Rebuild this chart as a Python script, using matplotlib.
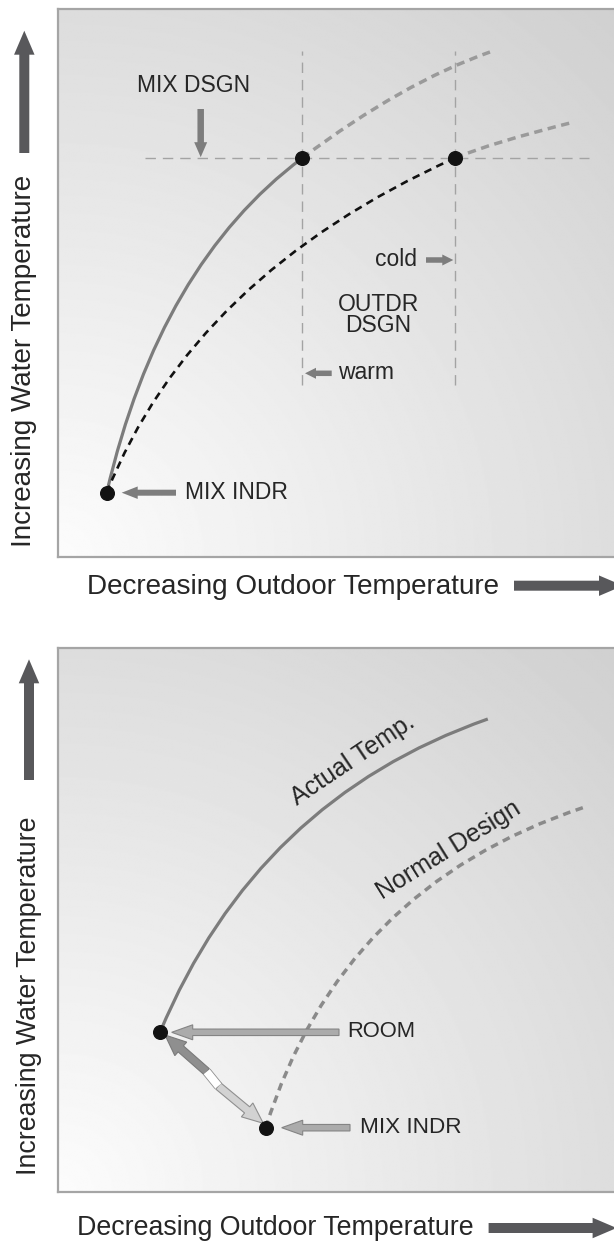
import numpy as np
import matplotlib
matplotlib.use("Agg")
import matplotlib.pyplot as plt
from matplotlib.path import Path
from matplotlib.patches import PathPatch, FancyArrow
import matplotlib.patheffects as pe

plt.rcParams['font.family'] = ['Liberation Sans', 'DejaVu Sans']
plt.rcParams['lines.scale_dashes'] = False

# ---------------- data (panel units, origin = lower-left corner of each panel) -------------
# Top panel: reset curves (start, bezier control, end)
top_actual = [(49.2, 64.0), (102.0, 292.0), (244.8, 398.7)]
top_actual_ext = [(244.8, 398.7), (345.5, 474.2), (432.5, 504.7)]
top_design = [(49.2, 64.0), (136.0, 281.0), (397.5, 398.7)]
top_design_ext = [(397.5, 398.7), (434.0, 414.0), (516.5, 434.7)]
top_points_x = [49.2, 244.8, 397.5]
top_points_y = [64.0, 398.7, 398.7]
top_guides_x = [244.8, 397.5]
top_guides_y = [171.7, 505.7]
top_guide_h = [87.5, 531.5]
top_guide_h_y = 398.7
top_labels = ["MIX DSGN", "cold", "OUTDR\nDSGN", "warm", "MIX INDR"]

# Bottom panel
bot_actual = [(102.0, 160.0), (198.9, 392.5), (429.8, 473.3)]
bot_design = [(207.7, 64.6), (282.7, 304.6), (526.0, 385.0)]
bot_points_x = [102.0, 207.7]
bot_points_y = [160.0, 64.6]
bot_labels = ["ROOM", "MIX INDR", "Actual Temp.", "Normal Design"]

x_title = "Decreasing Outdoor Temperature"
y_title = "Increasing Water Temperature"

# ---------------- figure ----------------
W, H = 614, 1241
fig = plt.figure(figsize=(W / 100, H / 100), dpi=100)
fig.patch.set_facecolor('white')

TXT = '#262626'
ARW = '#58585b'


def panel(left, top, right, bottom):
    w, h = right - left, bottom - top
    ax = fig.add_axes([left / W, 1 - bottom / H, w / W, h / H])
    xs = np.linspace(0, w, 400)
    ys = np.linspace(0, h, 400)
    X, Y = np.meshgrid(xs, ys)
    R = np.hypot(X, Y * 1.05)
    g = np.clip(252 - 0.055 * R, 0, 255) / 255.0
    ax.imshow(g, extent=(0, w, 0, h), origin='lower', cmap='gray', vmin=0, vmax=1,
              aspect='auto', zorder=0, interpolation='bilinear')
    ax.set_xlim(0, w)
    ax.set_ylim(0, h)
    ax.set_xticks([])
    ax.set_yticks([])
    for s in ax.spines.values():
        s.set_color('#a5a5a5')
        s.set_linewidth(1.6)
    return ax


def bez(ax, pts, **kw):
    path = Path(pts, [Path.MOVETO, Path.CURVE3, Path.CURVE3])
    ax.add_patch(PathPatch(path, fill=False, capstyle='butt', **kw))


def arrow(ax, x0, y0, x1, y1, w, hw, hl, fc, ec='none', lw=0, z=4):
    ax.add_patch(FancyArrow(x0, y0, x1 - x0, y1 - y0, width=w, head_width=hw,
                            head_length=hl, length_includes_head=True,
                            fc=fc, ec=ec, lw=lw, zorder=z))


# ---------------- top panel ----------------
ax1 = panel(57.5, 8.7, 620, 556.7)
gl = dict(color='#a3a3a3', lw=1.0, ls=(0, (7.5, 5)), zorder=2)
for gx in top_guides_x:
    ax1.plot([gx, gx], top_guides_y, **gl)
ax1.plot(top_guide_h, [top_guide_h_y, top_guide_h_y], **gl)

bez(ax1, top_actual, color='#7c7c7c', lw=2.3, zorder=3)
bez(ax1, top_actual_ext, color='#9a9a9a', lw=2.5, ls=(0, (6, 4)), zorder=3)
bez(ax1, top_design, color='#111111', lw=1.9, ls=(0, (5.5, 4)), zorder=3)
bez(ax1, top_design_ext, color='#9a9a9a', lw=2.5, ls=(0, (6, 4)), zorder=3)
ax1.plot(top_points_x, top_points_y, 'o', ms=9.8, color='#121212', zorder=5)

fs = 16.5
ax1.text(136.5, 471.7, top_labels[0], fontsize=fs, color=TXT, ha='center', va='center')
arrow(ax1, 143.2, 447.7, 143.2, 399.5, 6.5, 13, 15, '#7d7d7d')
ax1.text(338.5, 297.0, top_labels[1], fontsize=fs, color=TXT, ha='center', va='center')
arrow(ax1, 368.5, 296.7, 395.8, 296.7, 5.5, 11, 11, '#7d7d7d')
ax1.text(320.8, 241.5, top_labels[2], fontsize=fs, color=TXT, ha='center', va='center',
         linespacing=0.92)
ax1.text(280.8, 183.8, top_labels[3], fontsize=fs, color=TXT, ha='left', va='center')
arrow(ax1, 274.2, 183.4, 247.5, 183.4, 5.5, 11, 11, '#7d7d7d')
ax1.text(127.5, 64.5, top_labels[4], fontsize=fs, color=TXT, ha='left', va='center')
arrow(ax1, 118.5, 64.0, 64.2, 64.0, 6.0, 12.5, 16, '#7d7d7d')

# ---------------- bottom panel ----------------
ax2 = panel(58, 648, 620, 1192.3)
bez(ax2, bot_actual, color='#7c7c7c', lw=2.3, zorder=3)
bez(ax2, bot_design, color='#8a8a8a', lw=2.5, ls=(0, (5.5, 4)), zorder=3)
ax2.plot(bot_points_x, bot_points_y, 'o', ms=9.8, color='#121212', zorder=6)

fs2 = 15.8
arrow(ax2, 281, 160, 113.7, 160, 6.5, 15, 21, '#ababab', '#848484', 0.8)
ax2.text(289, 160.5, bot_labels[0], fontsize=fs2, color=TXT, ha='left', va='center')
arrow(ax2, 292, 64.6, 223.7, 64.6, 6.5, 15, 21, '#ababab', '#848484', 0.8)
ax2.text(302, 65.0, bot_labels[1], fontsize=fs2 + 0.4, color=TXT, ha='left', va='center')

# two-tone double arrow between ROOM and MIX INDR
arrow(ax2, 148.7, 120.6, 107.0, 157.3, 8, 18, 21, '#8f8f8f', '#7a7a7a', 0.8, z=5)
arrow(ax2, 160.3, 106.3, 205.3, 69.0, 8, 18, 21, '#d2d2d2', '#8f8f8f', 0.8, z=5)
ax2.plot([148.7, 160.3], [120.6, 106.3], color='white', lw=5.6, solid_capstyle='butt',
         zorder=5, path_effects=[pe.withStroke(linewidth=6.8, foreground='#8f8f8f')])

ax2.text(295, 432.3, bot_labels[2], fontsize=18, color=TXT, ha='center', va='center',
         rotation=34, rotation_mode='anchor')
ax2.text(391, 342.6, bot_labels[3], fontsize=18, color=TXT, ha='center', va='center',
         rotation=32, rotation_mode='anchor')

# ---------------- overlay: axis titles and big arrows (pixel coordinates) ----------------
ov = fig.add_axes([0, 0, 1, 1])
ov.set_xlim(0, W)
ov.set_ylim(H, 0)
ov.axis('off')
ov.set_zorder(-1)

ov.text(293, 586.5, x_title, fontsize=20.1, color=TXT, ha='center', va='center')
ov.text(24, 361, y_title, fontsize=20.1, color=TXT, ha='center', va='center', rotation=90)
ov.text(275, 1228, x_title, fontsize=19.3, color=TXT, ha='center', va='center')
ov.text(29, 996, y_title, fontsize=19.3, color=TXT, ha='center', va='center', rotation=90)

def big_arrow(x0, y0, x1, y1):
    ov.add_patch(FancyArrow(x0, y0, x1 - x0, y1 - y0, width=10, head_width=20.5,
                            head_length=24, length_includes_head=True, fc=ARW, ec='none'))

big_arrow(24.3, 153, 24.3, 30.7)
big_arrow(514, 585.7, 623, 585.7)
big_arrow(29, 780, 29, 659.3)
big_arrow(488.6, 1228, 616.6, 1228)

fig.savefig('out.png', dpi=100, facecolor='white')
